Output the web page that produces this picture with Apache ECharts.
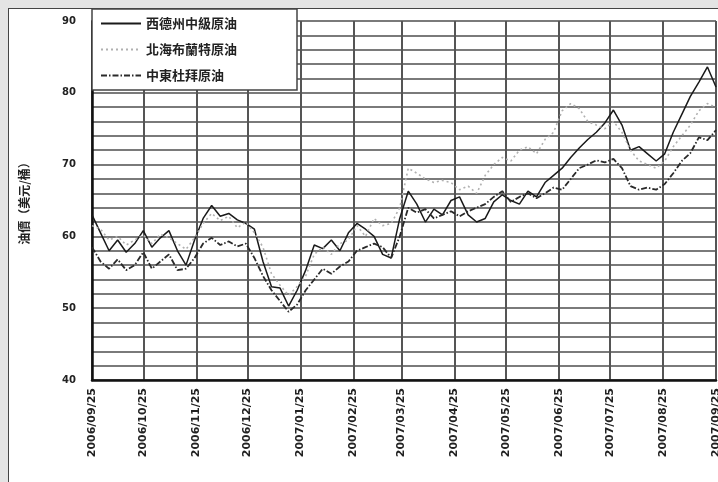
<!DOCTYPE html>
<html><head><meta charset="utf-8">
<script src="https://cdn.jsdelivr.net/npm/echarts@6.0.0/dist/echarts.min.js"></script>
<style>
html,body{margin:0;padding:0;background:#e4e4e4;width:718px;height:482px;overflow:hidden;}
#panel{position:absolute;left:8px;top:8px;width:720px;height:480px;background:#fff;border-left:1.5px solid #444;border-top:1.5px solid #444;}
#chart{position:absolute;left:0;top:0;width:718px;height:482px;}
</style></head><body>
<div id="panel"></div>
<div id="chart"></div>
<script>
const seriesNames = ['西德州中級原油', '北海布蘭特原油', '中東杜拜原油'];
const yAxisName = '油價（美元/桶）';
const monthTicks = ['2006/09/25','2006/10/25','2006/11/25','2006/12/25','2007/01/25','2007/02/25','2007/03/25','2007/04/25','2007/05/25','2007/06/25','2007/07/25','2007/08/25','2007/09/25'];
const yLabelValues = [40, 50, 60, 70, 80, 90];
const dates = ['2006-09-25','2006-09-30','2006-10-05','2006-10-10','2006-10-15','2006-10-20','2006-10-25','2006-10-30','2006-11-04','2006-11-09','2006-11-14','2006-11-19','2006-11-24','2006-11-29','2006-12-04','2006-12-09','2006-12-14','2006-12-19','2006-12-24','2006-12-29','2007-01-03','2007-01-08','2007-01-13','2007-01-18','2007-01-23','2007-01-28','2007-02-02','2007-02-07','2007-02-12','2007-02-17','2007-02-22','2007-02-27','2007-03-04','2007-03-09','2007-03-14','2007-03-19','2007-03-24','2007-03-29','2007-04-03','2007-04-08','2007-04-13','2007-04-18','2007-04-23','2007-04-28','2007-05-03','2007-05-08','2007-05-13','2007-05-18','2007-05-23','2007-05-28','2007-06-02','2007-06-07','2007-06-12','2007-06-17','2007-06-22','2007-06-27','2007-07-02','2007-07-07','2007-07-12','2007-07-17','2007-07-22','2007-07-27','2007-08-01','2007-08-06','2007-08-11','2007-08-16','2007-08-21','2007-08-26','2007-08-31','2007-09-05','2007-09-10','2007-09-15','2007-09-20','2007-09-25'];
const wti = [63.0,60.5,58.0,59.5,57.8,59.0,60.8,58.5,59.8,60.8,58.0,56.0,59.5,62.5,64.3,62.8,63.2,62.3,61.8,61.0,56.5,53.0,52.8,50.3,52.5,55.3,58.8,58.3,59.5,58.0,60.5,61.8,61.0,60.0,57.5,57.0,62.5,66.3,64.5,62.0,63.8,63.0,65.0,65.5,63.0,62.0,62.5,64.8,65.8,65.0,64.5,66.3,65.5,67.5,68.5,69.5,71.0,72.3,73.5,74.5,75.8,77.6,75.5,72.0,72.5,71.5,70.5,71.5,74.5,77.0,79.5,81.5,83.6,80.8];
const brent = [61.5,61.0,59.5,60.0,58.8,59.5,60.2,59.0,60.3,59.8,59.0,58.2,59.8,61.8,63.2,62.2,62.8,61.2,62.0,60.5,58.5,54.8,53.2,51.8,53.0,54.5,57.5,58.5,57.5,59.0,59.5,61.5,60.0,62.5,61.5,61.8,64.0,69.5,68.8,68.0,67.5,67.8,67.5,66.5,67.0,66.0,68.5,70.0,71.0,70.5,72.0,72.5,71.5,73.5,74.5,77.5,78.5,77.8,76.0,75.5,75.0,76.0,74.5,72.0,70.5,70.0,69.5,70.5,72.5,74.0,75.5,77.5,78.5,78.0];
const dubai = [58.5,56.5,55.5,56.8,55.3,56.0,57.8,55.5,56.5,57.5,55.3,55.5,57.0,59.0,59.8,58.8,59.3,58.6,59.0,57.0,54.5,52.5,51.0,49.5,50.5,52.5,54.0,55.5,54.8,55.8,56.5,58.0,58.5,59.0,58.5,57.0,60.0,64.0,63.3,63.8,62.5,63.0,63.5,62.8,63.5,64.0,64.5,65.5,66.3,64.8,65.5,66.0,65.3,66.0,66.8,66.5,68.0,69.5,70.0,70.6,70.3,70.8,69.5,67.0,66.5,66.8,66.5,67.3,68.8,70.5,71.6,73.8,73.4,74.8];

const BASE = Date.UTC(2006, 8, 25);
function toDay(s) {
  const p = s.split(/[-\/]/).map(Number);
  return Math.round((Date.UTC(p[0], p[1] - 1, p[2]) - BASE) / 86400000);
}
const tickDays = monthTicks.map(toDay);
const labelByDay = {};
monthTicks.forEach((t, i) => { labelByDay[tickDays[i]] = t; });
const dayX = dates.map(toDay);
const pairs = arr => arr.map((v, i) => [dayX[i], v]);

const chart = echarts.init(document.getElementById('chart'), null, { renderer: 'canvas' });
chart.setOption({
  animation: false,
  backgroundColor: 'transparent',
  grid: { left: 92, right: 2, top: 21, bottom: 102, containLabel: false, outerBoundsMode: 'none' },
  legend: {
    orient: 'vertical', left: 92, top: 9,
    padding: [8, 60, 8, 8], itemGap: 13, itemWidth: 40, itemHeight: 14,
    backgroundColor: '#fff', borderColor: '#444', borderWidth: 1.5, borderRadius: 0,
    itemStyle: { opacity: 0 },
    textStyle: { fontFamily: 'Noto Sans CJK TC', fontWeight: 'bold', fontSize: 13, color: '#222' },
    data: seriesNames
  },
  xAxis: {
    type: 'value', min: 0, max: tickDays[tickDays.length - 1],
    axisLine: { show: true, lineStyle: { color: '#111', width: 2.5 } },
    axisTick: { show: false, customValues: tickDays },
    axisLabel: {
      customValues: tickDays, rotate: 90, margin: 8,
      fontFamily: 'DejaVu Sans', fontWeight: 'bold', fontSize: 11, color: '#222',
      formatter: v => labelByDay[Math.round(v)] || ''
    },
    splitLine: { show: true, lineStyle: { color: '#555', width: 2 } }
  },
  yAxis: {
    type: 'value', min: 40, max: 90, interval: 2,
    name: yAxisName, nameLocation: 'middle', nameGap: 62,
    nameTextStyle: { fontFamily: 'Noto Sans CJK TC', fontWeight: 'bold', fontSize: 12, color: '#222' },
    axisLine: { show: true, lineStyle: { color: '#111', width: 2.5 } },
    axisTick: { show: false },
    axisLabel: {
      margin: 16, fontFamily: 'DejaVu Sans', fontWeight: 'bold', fontSize: 10, color: '#222',
      formatter: v => (yLabelValues.indexOf(v) >= 0 ? String(v) : '')
    },
    splitLine: { show: true, lineStyle: { color: '#7a7a7a', width: 2 } }
  },
  series: [
    { name: seriesNames[0], type: 'line', symbol: 'none', data: pairs(wti),
      lineStyle: { color: '#1a1a1a', width: 1.5, type: 'solid' }, itemStyle: { color: '#1a1a1a' } },
    { name: seriesNames[1], type: 'line', symbol: 'none', data: pairs(brent),
      lineStyle: { color: '#b0b0b0', width: 1.6, type: [2, 3] }, itemStyle: { color: '#b0b0b0' } },
    { name: seriesNames[2], type: 'line', symbol: 'none', data: pairs(dubai),
      lineStyle: { color: '#2a2a2a', width: 1.8, type: [6, 2, 1.5, 2] }, itemStyle: { color: '#2a2a2a' } }
  ]
});
</script>
</body></html>
